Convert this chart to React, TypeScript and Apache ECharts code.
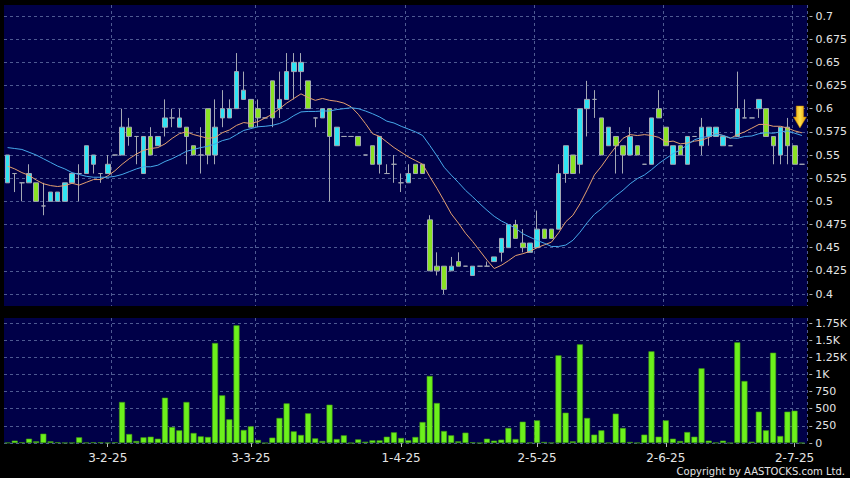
import React, { useEffect, useRef } from 'react';
import * as echarts from 'echarts';

const dayLabels = ['3-2-25', '3-3-25', '1-4-25', '2-5-25', '2-6-25', '2-7-25'];
const dayLabelIdx = [14, 34, 55, 74, 92, 110];
const gridLineIdx = [15, 35, 56, 74, 92, 110];

const opens = [
  0.52, 0.53, 0.52, 0.52, 0.52, 0.495, 0.5, 0.5, 0.5, 0.52,
  0.53, 0.53, 0.54, 0.53, 0.53, 0.55, 0.55, 0.58, 0.57, 0.53,
  0.57, 0.56, 0.58, 0.59, 0.58, 0.58, 0.56, 0.55, 0.6, 0.55,
  0.59, 0.59, 0.6, 0.61, 0.61, 0.6, 0.59, 0.63, 0.6, 0.61,
  0.64, 0.64, 0.63, 0.59, 0.59, 0.6, 0.56, 0.57, 0.57, 0.57,
  0.55, 0.56, 0.54, 0.53, 0.54, 0.52, 0.52, 0.54, 0.54, 0.48,
  0.43, 0.43, 0.425, 0.435, 0.43, 0.42, 0.43, 0.43, 0.435, 0.445,
  0.45, 0.475, 0.455, 0.445, 0.45, 0.47, 0.47, 0.47, 0.53, 0.55,
  0.54, 0.6, 0.61, 0.59, 0.56, 0.57, 0.56, 0.55, 0.56, 0.54,
  0.54, 0.6, 0.58, 0.54, 0.56, 0.54, 0.57, 0.56, 0.57, 0.57,
  0.56, 0.56, 0.57, 0.59, 0.59, 0.6, 0.6, 0.57, 0.55, 0.58,
  0.56, 0.54,
];
const closes = [
  0.55, 0.53, 0.52, 0.53, 0.5, 0.495, 0.51, 0.51, 0.52, 0.53,
  0.53, 0.56, 0.55, 0.53, 0.54, 0.55, 0.58, 0.57, 0.57, 0.57,
  0.55, 0.57, 0.59, 0.59, 0.59, 0.57, 0.55, 0.55, 0.55, 0.58,
  0.6, 0.6, 0.64, 0.62, 0.58, 0.59, 0.59, 0.59, 0.61, 0.64,
  0.65, 0.65, 0.6, 0.59, 0.6, 0.57, 0.58, 0.57, 0.57, 0.56,
  0.55, 0.54, 0.57, 0.53, 0.54, 0.52, 0.53, 0.53, 0.53, 0.425,
  0.425, 0.405, 0.43, 0.43, 0.43, 0.43, 0.43, 0.43, 0.44, 0.46,
  0.475, 0.46, 0.45, 0.455, 0.47, 0.46, 0.46, 0.53, 0.56, 0.53,
  0.6, 0.61, 0.61, 0.55, 0.58, 0.56, 0.55, 0.57, 0.55, 0.54,
  0.59, 0.59, 0.56, 0.56, 0.55, 0.57, 0.57, 0.58, 0.58, 0.58,
  0.57, 0.56, 0.6, 0.59, 0.59, 0.61, 0.57, 0.56, 0.58, 0.56,
  0.54, 0.54,
];
const lows = [
  0.52, 0.51, 0.5, 0.52, 0.5, 0.485, 0.5, 0.5, 0.5, 0.52,
  0.5, 0.53, 0.53, 0.52, 0.53, 0.55, 0.55, 0.56, 0.54, 0.53,
  0.55, 0.56, 0.57, 0.58, 0.58, 0.54, 0.55, 0.53, 0.54, 0.54,
  0.58, 0.59, 0.6, 0.61, 0.58, 0.58, 0.59, 0.58, 0.59, 0.61,
  0.61, 0.62, 0.6, 0.58, 0.59, 0.5, 0.56, 0.57, 0.57, 0.56,
  0.55, 0.54, 0.53, 0.53, 0.52, 0.51, 0.52, 0.53, 0.53, 0.425,
  0.42, 0.4, 0.425, 0.43, 0.43, 0.42, 0.43, 0.43, 0.435, 0.435,
  0.45, 0.46, 0.445, 0.445, 0.45, 0.46, 0.46, 0.47, 0.52, 0.53,
  0.53, 0.57, 0.59, 0.55, 0.56, 0.53, 0.53, 0.55, 0.55, 0.54,
  0.54, 0.59, 0.56, 0.54, 0.55, 0.54, 0.57, 0.55, 0.56, 0.57,
  0.56, 0.56, 0.57, 0.59, 0.59, 0.59, 0.57, 0.54, 0.54, 0.54,
  0.54, 0.54,
];
const highs = [
  0.55, 0.53, 0.52, 0.54, 0.52, 0.52, 0.51, 0.51, 0.52, 0.53,
  0.54, 0.56, 0.55, 0.53, 0.55, 0.55, 0.6, 0.59, 0.57, 0.57,
  0.58, 0.57, 0.61, 0.6, 0.6, 0.58, 0.56, 0.58, 0.6, 0.61,
  0.62, 0.61, 0.66, 0.64, 0.61, 0.61, 0.59, 0.63, 0.64, 0.66,
  0.66, 0.66, 0.63, 0.59, 0.6, 0.6, 0.58, 0.57, 0.57, 0.57,
  0.55, 0.56, 0.57, 0.54, 0.55, 0.53, 0.54, 0.54, 0.54, 0.485,
  0.445, 0.43, 0.44, 0.445, 0.43, 0.43, 0.43, 0.435, 0.44, 0.46,
  0.475, 0.48, 0.47, 0.455, 0.49, 0.47, 0.47, 0.54, 0.56, 0.55,
  0.6, 0.63, 0.62, 0.59, 0.58, 0.57, 0.56, 0.58, 0.56, 0.54,
  0.59, 0.62, 0.58, 0.56, 0.56, 0.57, 0.57, 0.59, 0.58, 0.58,
  0.57, 0.56, 0.64, 0.61, 0.59, 0.61, 0.6, 0.57, 0.58, 0.59,
  0.56, 0.54,
];
const volumes = [
  5, 35, 10, 63, 24, 136, 24, 10, 3, 3,
  83, 5, 10, 10, 2, 10, 598, 131, 29, 83,
  92, 63, 661, 233, 185, 598, 146, 97, 88, 1458,
  695, 345, 1716, 190, 243, 44, 0, 78, 365, 578,
  170, 117, 433, 68, 29, 559, 58, 112, 0, 53,
  19, 39, 39, 92, 156, 73, 39, 88, 306, 977,
  583, 175, 112, 24, 151, 10, 0, 63, 34, 49,
  219, 58, 311, 5, 330, 15, 3, 1278, 442, 24,
  1439, 365, 122, 185, 3, 428, 219, 15, 3, 122,
  1337, 92, 330, 63, 29, 160, 92, 1089, 34, 5,
  34, 0, 1468, 904, 19, 457, 185, 1317, 102, 457,
  471, 0,
];
const ma10 = [
  0.538, 0.535, 0.531, 0.528, 0.523, 0.519, 0.517, 0.516, 0.517, 0.5195,
  0.5175, 0.5205, 0.5235, 0.5235, 0.5275, 0.533, 0.54, 0.546, 0.551, 0.555,
  0.557, 0.558, 0.562, 0.568, 0.573, 0.575, 0.572, 0.57, 0.568, 0.569,
  0.574, 0.577, 0.582, 0.585, 0.584, 0.586, 0.59, 0.594, 0.6, 0.606,
  0.611, 0.616, 0.612, 0.609, 0.611, 0.609, 0.608, 0.606, 0.602, 0.594,
  0.584, 0.573, 0.57, 0.564, 0.558, 0.553, 0.548, 0.544, 0.54, 0.5265,
  0.514, 0.5005, 0.4865, 0.4765, 0.4655, 0.4565, 0.4465, 0.4365, 0.4275, 0.431,
  0.436, 0.4415, 0.4435, 0.446, 0.45, 0.453, 0.456, 0.466, 0.478, 0.485,
  0.4975, 0.5125, 0.5285, 0.538, 0.549, 0.559, 0.568, 0.572, 0.571, 0.572,
  0.571, 0.569, 0.564, 0.565, 0.562, 0.563, 0.565, 0.566, 0.569, 0.573,
  0.571, 0.568, 0.572, 0.575, 0.579, 0.583, 0.583, 0.581, 0.581, 0.579,
  0.576, 0.574,
];
const ma20 = [
  0.558, 0.557, 0.556, 0.553, 0.55, 0.546, 0.542, 0.538, 0.535, 0.531,
  0.529, 0.527, 0.526, 0.526, 0.526, 0.527, 0.529, 0.532, 0.535, 0.5373,
  0.5373, 0.539, 0.543, 0.546, 0.55, 0.554, 0.556, 0.558, 0.5595, 0.562,
  0.5655, 0.5675, 0.572, 0.5765, 0.5785, 0.5805, 0.581, 0.582, 0.584, 0.5875,
  0.5925, 0.5965, 0.597, 0.597, 0.5975, 0.5975, 0.599, 0.6, 0.601, 0.6,
  0.5975, 0.5945, 0.591, 0.5865, 0.5845, 0.581, 0.578, 0.575, 0.571, 0.5603,
  0.549, 0.5368, 0.5283, 0.5203, 0.5118, 0.5048, 0.4973, 0.4903, 0.4838, 0.4788,
  0.475, 0.471, 0.465, 0.4613, 0.4578, 0.4548, 0.4513, 0.4513, 0.4528, 0.458,
  0.4668, 0.477, 0.486, 0.492, 0.4995, 0.506, 0.512, 0.519, 0.5245, 0.5285,
  0.5343, 0.5408, 0.5463, 0.5515, 0.5555, 0.561, 0.5665, 0.569, 0.57, 0.5725,
  0.571, 0.5685, 0.568, 0.57, 0.5705, 0.573, 0.574, 0.5735, 0.575, 0.576,
  0.5735, 0.571,
];

export default function App() {
  const ref = useRef<HTMLDivElement>(null);
  useEffect(() => {
    const chart = echarts.init(ref.current!, undefined, { renderer: 'svg' });
    const cats = closes.map((_, i) => String(i));
    const candle = opens.map((o, i) => [o, closes[i], lows[i], highs[i]]);
    const font = 'DejaVu Sans';
    const navy = '#000048';
    const gridColor = '#4e5a92';
    const textColor = '#e4e4e4';
    const L = 4;
    const W = 803;
    const splitDash = { color: gridColor, type: [3, 3] as number[], width: 1 };
    const bgX = (gridIndex: number) => ({
      type: 'category',
      gridIndex,
      data: cats,
      boundaryGap: true,
      axisLine: { show: false },
      axisTick: { show: false },
      axisLabel: { show: false },
      splitLine: {
        show: true,
        interval: (i: number) => gridLineIdx.includes(i),
        lineStyle: splitDash,
      },
    });
    const hiddenY = (gridIndex: number) => ({
      type: 'value',
      gridIndex,
      min: 0,
      max: 1,
      show: false,
      splitLine: { show: false },
    });
    chart.setOption({
      animation: false,
      backgroundColor: '#000000',
      grid: [
        { left: L, top: 5, width: W, height: 301, show: true, backgroundColor: navy, borderWidth: 0 },
        { left: L, top: 16, width: W, height: 278 },
        { left: L, top: 318, width: W, height: 125.5, show: true, backgroundColor: navy, borderWidth: 0 },
        { left: L, top: 323, width: W, height: 120 },
      ],
      xAxis: [
        bgX(0),
        { type: 'category', gridIndex: 1, data: cats, boundaryGap: true, show: false },
        bgX(2),
        {
          type: 'category',
          gridIndex: 3,
          data: cats,
          boundaryGap: true,
          offset: 2,
          axisLine: { show: false },
          axisTick: {
            show: true,
            alignWithLabel: true,
            length: 4,
            interval: (i: number) => dayLabelIdx.includes(i),
            lineStyle: { color: '#b8b8b8' },
          },
          axisLabel: {
            show: true,
            interval: (i: number) => dayLabelIdx.includes(i),
            formatter: (v: string) => {
              const k = dayLabelIdx.indexOf(parseInt(v, 10));
              return k >= 0 ? dayLabels[k] : '';
            },
            color: textColor,
            fontFamily: font,
            fontSize: 12,
            margin: 7,
          },
          splitLine: { show: false },
        },
      ],
      yAxis: [
        hiddenY(0),
        {
          type: 'value',
          gridIndex: 1,
          position: 'right',
          min: 0.4,
          max: 0.7,
          interval: 0.025,
          offset: 4,
          axisLine: { show: false },
          axisTick: { show: true, length: 3, lineStyle: { color: '#b0b0b0' } },
          axisLabel: {
            color: textColor,
            fontFamily: font,
            fontSize: 11,
            margin: 6,
            formatter: (v: number) => String(Math.round(v * 1000) / 1000),
          },
          splitLine: { show: true, lineStyle: splitDash },
        },
        hiddenY(2),
        {
          type: 'value',
          gridIndex: 3,
          position: 'right',
          min: 0,
          max: 1750,
          interval: 250,
          offset: 4,
          axisLine: { show: false },
          axisTick: { show: true, length: 3, lineStyle: { color: '#b0b0b0' } },
          axisLabel: {
            color: textColor,
            fontFamily: font,
            fontSize: 11,
            margin: 6,
            formatter: (v: number) => (v >= 1000 ? `${v / 1000}K` : String(v)),
          },
          splitLine: { show: true, lineStyle: splitDash },
        },
      ],
      series: [
        {
          type: 'candlestick',
          name: 'Price',
          xAxisIndex: 1,
          yAxisIndex: 1,
          data: candle,
          barWidth: 5,
          itemStyle: {
            color: '#2ee4f4',
            color0: '#8ae224',
            borderColor: '#a4a8b4',
            borderColor0: '#a4a8b4',
            borderWidth: 1,
          },
          markPoint: {
            silent: true,
            label: { show: false },
            data: [
              {
                coord: ['111', 0.591],
                symbol: 'path://M3,0 L11,0 L11,11 L14,11 L7,22 L0,11 L3,11 Z',
                symbolSize: [13, 22],
                symbolOffset: [-2, 0],
                itemStyle: {
                  color: {
                    type: 'linear', x: 0, y: 0, x2: 1, y2: 0,
                    colorStops: [
                      { offset: 0, color: '#e49a00' },
                      { offset: 0.5, color: '#ffe24a' },
                      { offset: 1, color: '#e49a00' },
                    ],
                  },
                  borderColor: '#c07800',
                  borderWidth: 0.5,
                },
              },
            ],
          },
        },
        {
          type: 'line',
          name: 'MA10',
          xAxisIndex: 1,
          yAxisIndex: 1,
          data: ma10,
          showSymbol: false,
          symbol: 'none',
          lineStyle: { color: '#e4a070', width: 1 },
          z: 3,
        },
        {
          type: 'line',
          name: 'MA20',
          xAxisIndex: 1,
          yAxisIndex: 1,
          data: ma20,
          showSymbol: false,
          symbol: 'none',
          lineStyle: { color: '#46a8ea', width: 1 },
          z: 3,
        },
        {
          type: 'bar',
          name: 'Volume',
          xAxisIndex: 3,
          yAxisIndex: 3,
          data: volumes,
          barWidth: 6,
          itemStyle: { color: '#6cf01c', borderColor: '#3f9a12', borderWidth: 0.6 },
        },
      ],
      graphic: [
        {
          type: 'text',
          right: 5,
          top: 466,
          style: {
            text: 'Copyright by AASTOCKS.com Ltd.',
            fill: textColor,
            font: `10px "${font}"`,
          },
        },
      ],
    });
    return () => chart.dispose();
  }, []);
  return (
    <div
      ref={ref}
      style={{ position: 'fixed', left: 0, top: 0, width: 850, height: 478 }}
    />
  );
}
